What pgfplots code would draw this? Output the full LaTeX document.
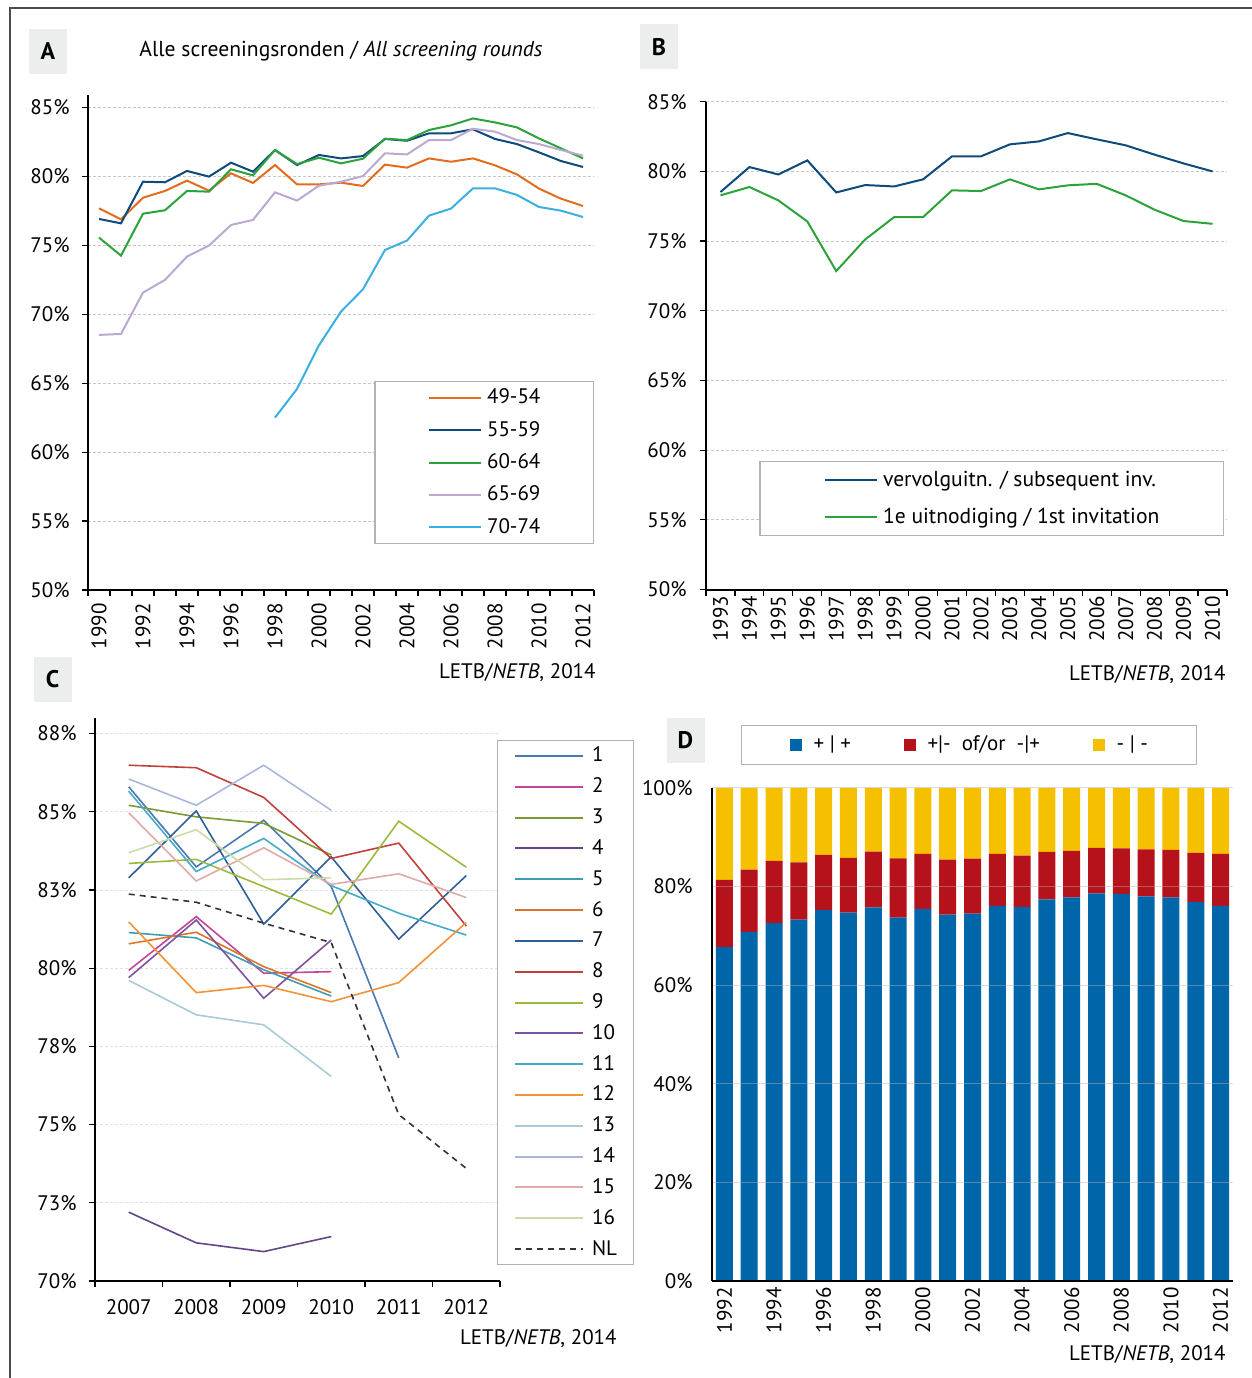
\documentclass[border=0pt]{standalone}
\usepackage{fontspec}
\setmainfont{PT Sans}
\usepackage{pgfplots}
\usepackage{pgfplotstable}
\pgfplotsset{compat=1.18}

\definecolor{oA}{HTML}{E46C1E}
\definecolor{nA}{HTML}{0E4A7C}
\definecolor{gA}{HTML}{2CA33A}
\definecolor{lA}{HTML}{BBA9D1}
\definecolor{bA}{HTML}{3AB0E2}
\definecolor{c1}{HTML}{4A78B0}
\definecolor{c2}{HTML}{C2459A}
\definecolor{c3}{HTML}{7C9A33}
\definecolor{c4}{HTML}{644585}
\definecolor{c5}{HTML}{3F9CB2}
\definecolor{c6}{HTML}{D9762A}
\definecolor{c7}{HTML}{2F5F98}
\definecolor{c8}{HTML}{C0403C}
\definecolor{c9}{HTML}{9BBB3C}
\definecolor{c10}{HTML}{7D529F}
\definecolor{c11}{HTML}{45A9C9}
\definecolor{c12}{HTML}{F39237}
\definecolor{c13}{HTML}{A9CBD8}
\definecolor{c14}{HTML}{A8B7DA}
\definecolor{c15}{HTML}{DFAAA8}
\definecolor{c16}{HTML}{CDDBAA}
\definecolor{cNL}{HTML}{333333}
\definecolor{dB}{HTML}{0066AA}
\definecolor{dR}{HTML}{B5121B}
\definecolor{dY}{HTML}{F5C000}
\definecolor{lbg}{HTML}{ECEDED}

\pgfplotstableread{
year blue red yel
1992 67.7 13.65 18.65
1993 70.8 12.65 16.55
1994 72.6 12.60 14.80
1995 73.3 11.63 15.07
1996 75.3 11.12 13.58
1997 74.7 11.11 14.19
1998 75.8 11.29 12.91
1999 73.7 12.04 14.26
2000 75.5 11.12 13.38
2001 74.3 11.17 14.53
2002 74.5 11.18 14.32
2003 76.1 10.52 13.38
2004 75.9 10.38 13.72
2005 77.4 9.63 12.97
2006 77.8 9.43 12.77
2007 78.6 9.24 12.16
2008 78.5 9.27 12.23
2009 78.0 9.57 12.43
2010 77.8 9.63 12.57
2011 76.9 9.92 13.18
2012 76.1 10.52 13.38
}\tblD

\newcommand\fs{\fontsize{10.5}{12}\selectfont}

\pgfplotsset{
  base/.style={
    scale only axis, anchor=south west,
    axis x line*=bottom, axis y line*=left,
    axis line style={black, line width=1pt},
    tick style={black, line width=0.6pt},
    tick align=outside, major tick length=3pt, minor tick length=3pt,
    major x tick style={draw=none},
    /pgf/number format/assume math mode=true,
    /pgf/number format/1000 sep={},
    ticklabel style={font=\fs},
    ymajorgrids,
    grid style={black!22, line width=0.5pt, dash pattern=on 1.5pt off 1pt},
    yticklabel style={inner sep=0pt, xshift=-6pt},
  },
  lineleg/.style={
    legend image code/.code={\draw[##1, line width=1pt] (0pt,0pt) -- (#1,0pt);}
  },
}

\begin{document}
\fs
\begin{tikzpicture}
\path[use as bounding box] (0pt,0pt) rectangle (626pt,689pt);
\draw[black!70, line width=0.6pt] (5pt,0pt) -- (5pt,685pt) -- (626pt,685pt);

% panel labels
\foreach \lab/\cx/\cy in {A/24/663.25, B/329.5/665.5, C/26.25/349.25, D/342.75/318.75}{
  \node[fill=lbg, minimum width=19pt, minimum height=22.5pt, inner sep=0pt, font=\fontsize{12}{14}\selectfont\bfseries] at (\cx pt,\cy pt) {\lab};
}
\node[font=\fontsize{10.8}{12}\selectfont] at (170.5pt,663.5pt) {Alle screeningsronden / \textit{All screening rounds}};
\node[anchor=east, inner sep=0pt] at (298pt,352.5pt) {LETB/\textit{NETB}, 2014};
\node[anchor=east, inner sep=0pt] at (613pt,351.5pt) {LETB/\textit{NETB}, 2014};
\node[anchor=east, inner sep=0pt] at (308.5pt,19.5pt) {LETB/\textit{NETB}, 2014};
\node[anchor=east, inner sep=0pt] at (613pt,11.5pt) {LETB/\textit{NETB}, 2014};

% ---------------- A
\begin{axis}[base, at={(44pt,394pt)}, width=253pt, height=247.5pt,
  xmin=1989.5, xmax=2012.5, ymin=50, ymax=85.9,
  xtick={1990,1992,...,2012}, minor xtick={1989.5,1990.5,...,2012.5},
  ytick={50,55,...,85}, yticklabel={\pgfmathprintnumber{\tick}\%},
  xticklabel style={rotate=90, anchor=east, inner sep=0pt, xshift=-3.5pt},
  lineleg=26pt,
  legend style={at={(1,0.4222)}, anchor=north east, draw=black!30, line width=0.6pt, fill=white,
    inner xsep=26.5pt, inner ysep=0pt, row sep=0pt,
    nodes={inner sep=0pt, minimum height=16.2pt, font=\fs},
    /tikz/every odd column/.append style={column sep=2.5pt}},
  legend cell align=left,
  every axis plot/.append style={line width=1pt}]
\addplot[oA] coordinates {(1990,77.68)(1991,76.88)(1992,78.45)(1993,78.94)(1994,79.69)(1995,78.96)(1996,80.22)(1997,79.52)(1998,80.82)(1999,79.42)(2000,79.42)(2001,79.54)(2002,79.30)(2003,80.85)(2004,80.63)(2005,81.30)(2006,81.06)(2007,81.30)(2008,80.80)(2009,80.14)(2010,79.11)(2011,78.38)(2012,77.85)};
\addplot[nA] coordinates {(1990,76.91)(1991,76.59)(1992,79.61)(1993,79.57)(1994,80.39)(1995,79.98)(1996,80.99)(1997,80.34)(1998,81.91)(1999,80.82)(2000,81.55)(2001,81.30)(2002,81.47)(2003,82.71)(2004,82.58)(2005,83.12)(2006,83.12)(2007,83.41)(2008,82.71)(2009,82.34)(2010,81.74)(2011,81.11)(2012,80.68)};
\addplot[gA] coordinates {(1990,75.56)(1991,74.25)(1992,77.29)(1993,77.54)(1994,78.94)(1995,78.89)(1996,80.51)(1997,80.07)(1998,81.91)(1999,80.89)(2000,81.35)(2001,80.94)(2002,81.28)(2003,82.73)(2004,82.63)(2005,83.36)(2006,83.70)(2007,84.20)(2008,83.91)(2009,83.55)(2010,82.75)(2011,82.03)(2012,81.30)};
\addplot[lA] coordinates {(1990,68.50)(1991,68.57)(1992,71.57)(1993,72.49)(1994,74.18)(1995,74.98)(1996,76.47)(1997,76.84)(1998,78.84)(1999,78.24)(2000,79.32)(2001,79.61)(2002,80.02)(2003,81.67)(2004,81.59)(2005,82.63)(2006,82.63)(2007,83.45)(2008,83.24)(2009,82.63)(2010,82.34)(2011,81.91)(2012,81.50)};
\addplot[bA] coordinates {(1998,62.5)(1999,64.58)(2000,67.75)(2001,70.19)(2002,71.81)(2003,74.66)(2004,75.34)(2005,77.15)(2006,77.66)(2007,79.13)(2008,79.13)(2009,78.65)(2010,77.78)(2011,77.51)(2012,77.05)};
\legend{49-54,55-59,60-64,65-69,70-74}
\end{axis}

% ---------------- B
\begin{axis}[base, at={(353pt,394.2pt)}, width=260.5pt, height=243.95pt,
  xmin=1992.5, xmax=2010.5, ymin=50, ymax=85,
  xtick={1993,...,2010}, minor xtick={1992.5,1993.5,...,2010.5},
  ytick={50,55,...,85}, yticklabel={\pgfmathprintnumber{\tick}\%},
  yticklabel style={xshift=-0.5pt},
  xticklabel style={rotate=90, anchor=east, inner sep=0pt},
  lineleg=26pt,
  legend style={at={(0.99424,0.26358)}, anchor=north east, draw=black!30, line width=0.6pt, fill=white,
    inner xsep=32pt, inner ysep=0pt, row sep=0pt,
    nodes={inner sep=0pt, minimum height=18.5pt, font=\fontsize{10.8}{12}\selectfont},
    /tikz/every odd column/.append style={column sep=2.5pt}},
  legend cell align=left,
  every axis plot/.append style={line width=1pt}]
\addplot[nA] coordinates {(1993,78.52)(1994,80.31)(1995,79.78)(1996,80.79)(1997,78.49)(1998,79.02)(1999,78.92)(2000,79.43)(2001,81.08)(2002,81.08)(2003,81.94)(2004,82.15)(2005,82.75)(2006,82.30)(2007,81.87)(2008,81.20)(2009,80.57)(2010,80.00)};
\addplot[gA] coordinates {(1993,78.28)(1994,78.88)(1995,77.92)(1996,76.41)(1997,72.85)(1998,75.12)(1999,76.72)(2000,76.72)(2001,78.64)(2002,78.59)(2003,79.43)(2004,78.71)(2005,79.00)(2006,79.11)(2007,78.28)(2008,77.25)(2009,76.44)(2010,76.24)};
\legend{vervolguitn. / subsequent inv., 1e uitnodiging / 1st invitation}
\end{axis}

% ---------------- C
\begin{axis}[base, at={(47.5pt,48.5pt)}, width=202.5pt, height=281.5pt,
  xmin=-0.5, xmax=5.5, ymin=70, ymax=88,
  xtick={0,...,5}, xticklabels={2007,2008,2009,2010,2011,2012},
  minor xtick={-0.5,0.5,...,5.5},
  ytick={70,72.5,...,87.5},
  yticklabels={70\%,73\%,75\%,78\%,80\%,83\%,85\%,88\%},
  grid style={black!12, line width=0.5pt, dash pattern=on 1.5pt off 1pt},
  xticklabel style={anchor=north, inner sep=0pt, yshift=-6pt},
  lineleg=34pt,
  legend style={at={(0.99259,0.96092)}, anchor=north west, draw=black!30, line width=0.6pt, fill=white,
    inner xsep=8.25pt, inner ysep=0pt, row sep=0pt,
    nodes={inner sep=0pt, minimum height=15.41pt, font=\fs},
    /tikz/every odd column/.append style={column sep=4pt}},
  legend cell align=left,
  every axis plot/.append style={line width=0.8pt}]
\addplot[c1] coordinates {(0,85.80)(1,83.24)(2,84.73)(3,82.61)(4,77.13)};
\addplot[c2] coordinates {(0,79.93)(1,81.65)(2,79.84)(3,79.89)};
\addplot[c3] coordinates {(0,85.21)(1,84.84)(2,84.63)(3,83.62)};
\addplot[c4] coordinates {(0,72.20)(1,71.22)(2,70.94)(3,71.42)};
\addplot[c5] coordinates {(0,81.14)(1,80.97)(2,79.95)(3,79.11)};
\addplot[c6] coordinates {(0,80.78)(1,81.15)(2,80.05)(3,79.22)};
\addplot[c7] coordinates {(0,82.89)(1,85.03)(2,81.41)(3,83.56)(4,80.93)(5,82.96)};
\addplot[c8] coordinates {(0,86.49)(1,86.41)(2,85.46)(3,83.51)(4,84.00)(5,81.35)};
\addplot[c9] coordinates {(0,83.35)(1,83.48)(2,82.61)(3,81.73)(4,84.70)(5,83.23)};
\addplot[c10] coordinates {(0,79.70)(1,81.54)(2,79.04)(3,80.90)};
\addplot[c11] coordinates {(0,85.66)(1,83.09)(2,84.15)(3,82.64)(4,81.76)(5,81.06)};
\addplot[c12] coordinates {(0,81.48)(1,79.22)(2,79.45)(3,78.93)(4,79.54)(5,81.46)};
\addplot[c13] coordinates {(0,79.61)(1,78.51)(2,78.19)(3,76.54)};
\addplot[c14] coordinates {(0,86.05)(1,85.21)(2,86.49)(3,85.05)};
\addplot[c15] coordinates {(0,84.97)(1,82.79)(2,83.85)(3,82.68)(4,83.02)(5,82.26)};
\addplot[c16] coordinates {(0,83.69)(1,84.43)(2,82.83)(3,82.89)};
\addplot[cNL, dash pattern=on 3pt off 2.5pt] coordinates {(0,82.37)(1,82.11)(2,81.44)(3,80.82)(4,75.32)(5,73.60)};
\legend{1,2,3,4,5,6,7,8,9,10,11,12,13,14,15,16,NL}
\end{axis}

% ---------------- D
\begin{axis}[base, at={(356pt,48.5pt)}, width=260.5pt, height=246.5pt,
  ybar stacked, bar width=8.5pt,
  xmin=1991.5, xmax=2012.5, ymin=0, ymax=100,
  xtick={1992,1994,...,2012}, minor xtick={},
  ytick={0,20,...,100}, yticklabel={\pgfmathprintnumber{\tick}\%},
  ytick style={draw=none},
  yticklabel style={xshift=-0.5pt},
  axis on top,
  grid style={solid, white!70!black, line width=0.5pt, opacity=0.45},
  xticklabel style={rotate=90, anchor=east, inner sep=0pt},
  legend image code/.code={\draw[#1, draw=none] (0pt,-3pt) rectangle (6pt,3pt);},
  legend columns=3,
  legend style={at={(0.05566,1.12779)}, anchor=north west, draw=black!30, line width=0.6pt, fill=white,
    inner xsep=24pt, inner ysep=0pt, row sep=0pt,
    nodes={inner sep=0pt, minimum height=19.5pt, font=\fs},
    /tikz/every odd column/.append style={column sep=6pt},
    /tikz/every even column/.append style={column sep=25pt}},
  legend cell align=left]
\addplot[fill=dB, draw=none] table[x=year, y=blue] {\tblD};
\addplot[fill=dR, draw=none] table[x=year, y=red] {\tblD};
\addplot[fill=dY, draw=none] table[x=year, y=yel] {\tblD};
\addlegendentry{\makebox[20pt][l]{+ | +}}
\addlegendentry{\makebox[57.5pt][l]{+|-\ \ of/or\ \ -|+}}
\addlegendentry{\makebox[16pt][l]{- | -}}
\end{axis}
\end{tikzpicture}
\end{document}
